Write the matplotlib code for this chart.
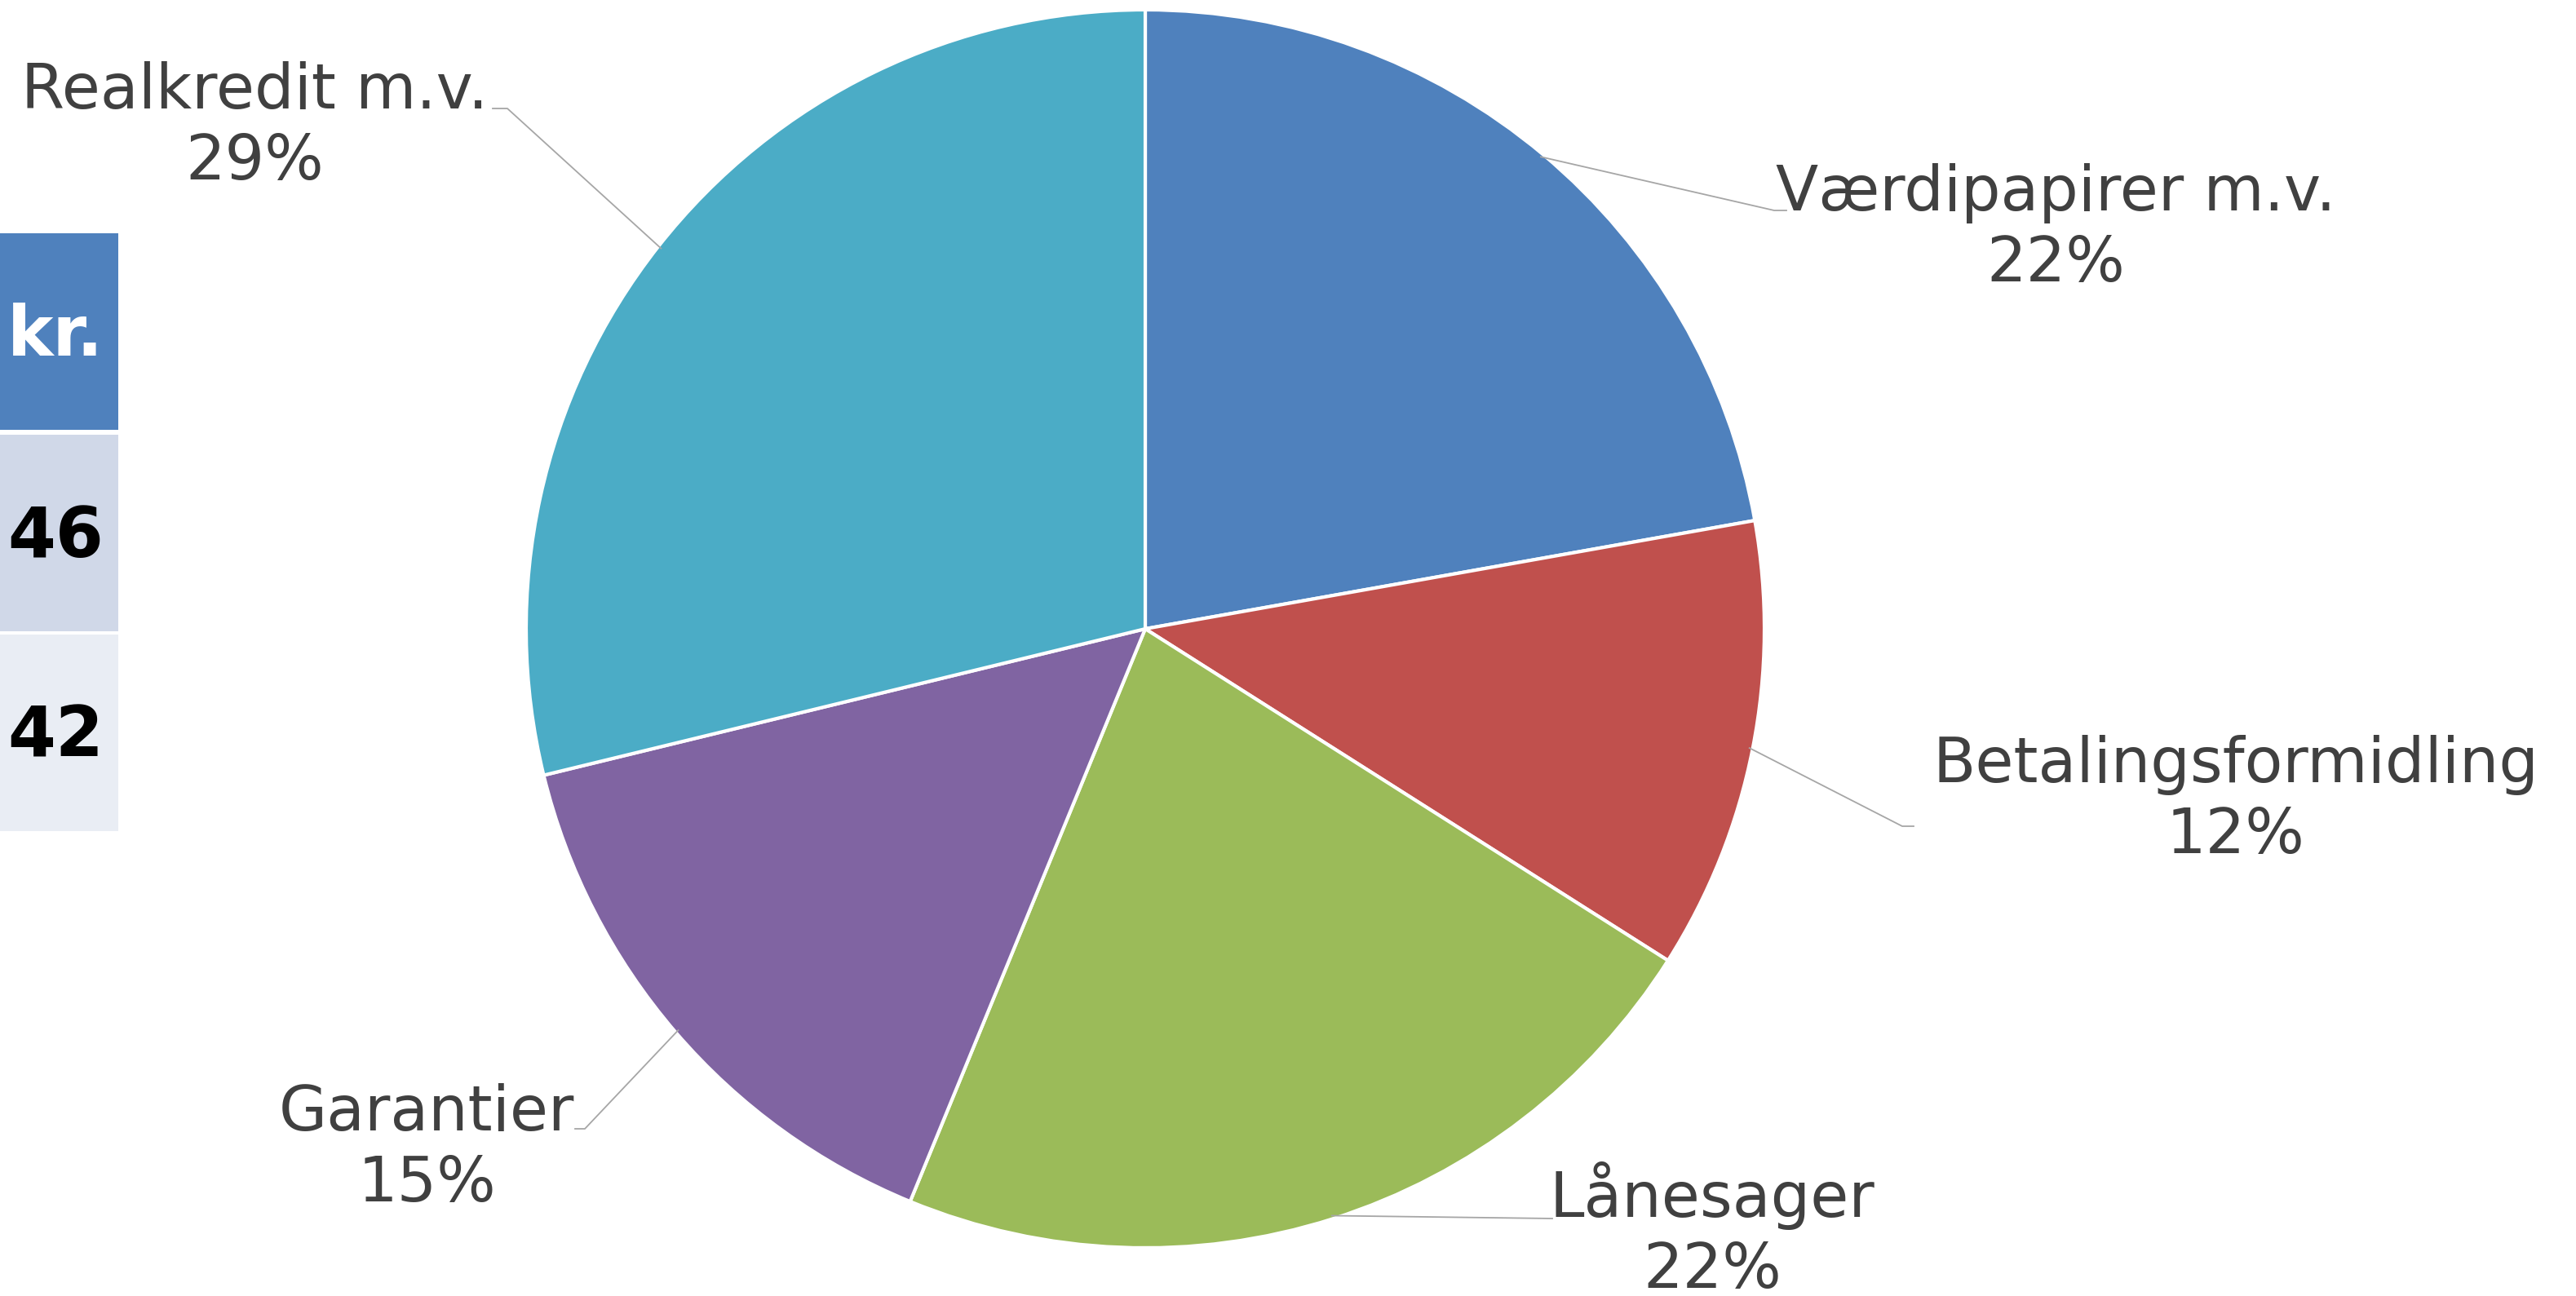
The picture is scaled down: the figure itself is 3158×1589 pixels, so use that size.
import matplotlib.pyplot as plt
import numpy as np

# slice data (clockwise from 12 o'clock)
categories = ["Værdipapirer m.v.", "Betalingsformidling", "Lånesager", "Garantier", "Realkredit m.v."]
shares = [22.2, 11.8, 22.2, 15.0, 28.8]
colors = ["#4F81BD", "#C0504D", "#9BBB59", "#8064A2", "#4BACC6"]

# the cropped table on the left edge
table_text = ["kr.", "46", "42"]
table_fill = ["#4F81BD", "#D0D8E8", "#E9EDF4"]
table_color = ["white", "black", "black"]

W, H = 3158, 1589
TXT = "#404040"
LEAD = "#A6A6A6"

fig = plt.figure(figsize=(W / 100, H / 100), dpi=100)
ax = fig.add_axes([0, 0, 1, 1])

cx, cy, r = 1404, H - 771, 759
wedges, _ = ax.pie(shares, colors=colors, startangle=90, counterclock=False,
                   center=(cx, cy), radius=r, frame=True,
                   wedgeprops=dict(edgecolor="white", linewidth=3))
ax.set_xlim(0, W)
ax.set_ylim(0, H)
ax.set_aspect("equal")
ax.axis("off")

# label layout: (x centre, first baseline in image px), elbow point, end of leader
label_pos = [(2520, 258), (2741, 959), (2099, 1492), (523, 1386), (312, 133)]
elbows = [(2175, 258), (2332, 1013), (1903, 1494), (717, 1384), (622, 133)]
ends = [(2190, 258), (2346, 1013), (1903, 1494), (705, 1384), (604, 133)]

for w, name, v, (lx, ly), (ex, ey), (tx, ty) in zip(wedges, categories, shares, label_pos, elbows, ends):
    mid = np.deg2rad((w.theta1 + w.theta2) / 2)
    sx, sy = cx + (r - 4) * np.cos(mid), cy + (r - 4) * np.sin(mid)
    ax.plot([sx, ex, tx], [sy, H - ey, H - ty], color=LEAD, lw=1.3, zorder=3)
    ax.text(lx, H - ly, name, ha="center", va="baseline", fontsize=55, color=TXT)
    ax.text(lx, H - ly - 87, f"{v:.0f}%", ha="center", va="baseline", fontsize=55, color=TXT)

# table fragment
cell_top = [286, 533, 778]
cell_h = 241
for t, fc, tc, top in zip(table_text, table_fill, table_color, cell_top):
    ax.add_patch(plt.Rectangle((-10, H - top - cell_h), 155, cell_h, facecolor=fc, edgecolor="none"))
    ax.text(127, H - top - cell_h / 2 - 6, t, ha="right", va="center", fontsize=61,
            fontweight="bold", color=tc)

fig.savefig("out.png", dpi=100)
